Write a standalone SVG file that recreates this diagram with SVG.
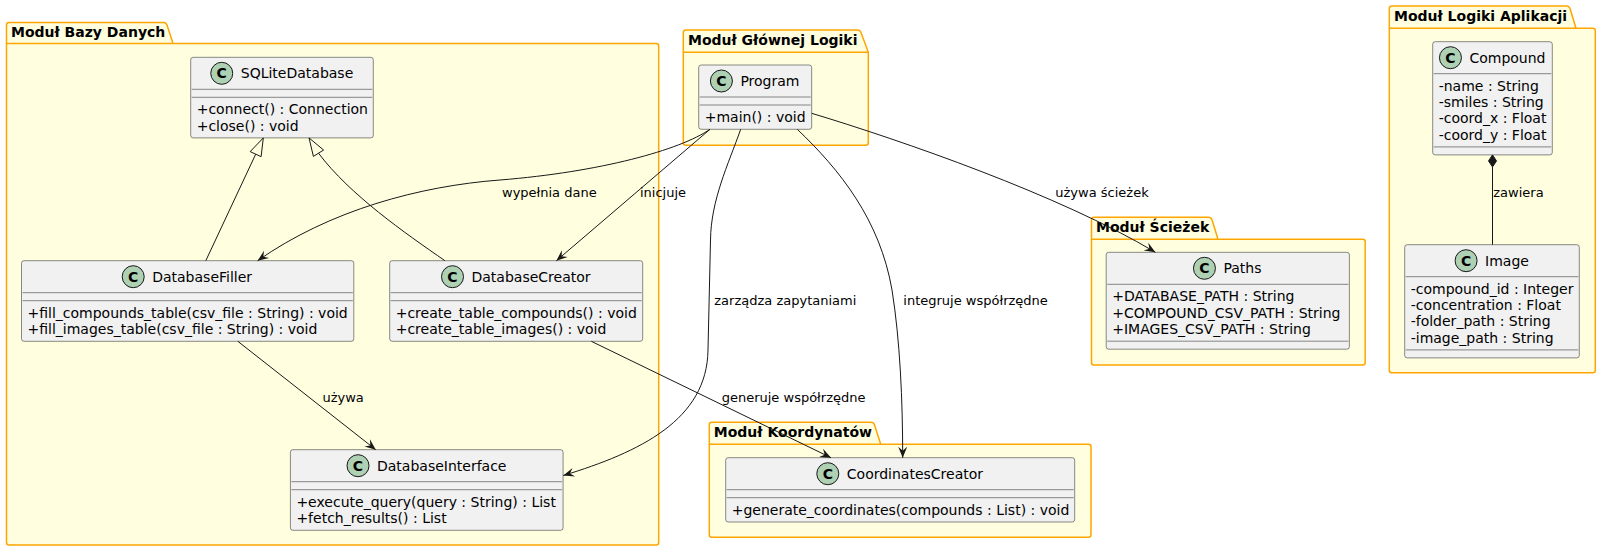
<svg xmlns="http://www.w3.org/2000/svg" width="1601" height="551" viewBox="0 0 1601 551">
<style>
text{font-family:"DejaVu Sans","Noto Sans",sans-serif;fill:#000}
.pkg{fill:#FFFFE0;stroke:#FFA500;stroke-width:1.5}
.pkgl{stroke:#FFA500;stroke-width:1.5;fill:none}
.pt{font-size:14px;font-weight:bold}
.box{fill:#F1F1F1;stroke:#181818;stroke-width:0.5}
.sep{stroke:#181818;stroke-width:0.5}
.spot{fill:#ADD1B2;stroke:#181818;stroke-width:1}
.sl{font-size:14px;font-weight:bold;text-anchor:middle}
.nm{font-size:14px}
.mb{font-size:14px}
.lk{fill:none;stroke:#181818;stroke-width:1}
.lb{font-size:13px}
</style>
<defs>
<marker id="arr" viewBox="-12 -6 14 12" refX="0" refY="0" markerWidth="14" markerHeight="12" orient="auto" markerUnits="userSpaceOnUse">
<path d="M0,0 L-11,-4.5 L-7,0 L-11,4.5 Z" fill="#181818"/>
</marker>
</defs>

<g id="pkg-bazy">
<path class="pkg" d="M9,22.5 L163.5,22.5 Q166,22.5 167,25 L173,43.5 L656.2,43.5 Q658.7,43.5 658.7,46 L658.7,542.5 Q658.7,545 656.2,545 L9,545 Q6.5,545 6.5,542.5 L6.5,25 Q6.5,22.5 9,22.5 Z"/>
<path class="pkgl" d="M6.5,43.5 H173"/>
<text class="pt" x="11" y="37">Moduł Bazy Danych</text>
</g>
<g id="pkg-glowna">
<path class="pkg" d="M685.8,30 L857.5,30 Q860,30 861,32.5 L868.3,52.3 L868.3,142.8 Q868.3,145.3 865.8,145.3 L685.8,145.3 Q683.3,145.3 683.3,142.8 L683.3,32.5 Q683.3,30 685.8,30 Z"/>
<path class="pkgl" d="M683.3,52.3 H868.3"/>
<text class="pt" x="688" y="44.5">Moduł Głównej Logiki</text>
</g>
<g id="pkg-logiki">
<path class="pkg" d="M1391.8,6 L1566.5,6 Q1569,6 1570,8.5 L1576,28.3 L1592.8,28.3 Q1595.3,28.3 1595.3,30.8 L1595.3,370.2 Q1595.3,372.7 1592.8,372.7 L1391.8,372.7 Q1389.3,372.7 1389.3,370.2 L1389.3,8.5 Q1389.3,6 1391.8,6 Z"/>
<path class="pkgl" d="M1389.3,28.3 H1576"/>
<text class="pt" x="1394" y="20.5">Moduł Logiki Aplikacji</text>
</g>
<g id="pkg-sciezek">
<path class="pkg" d="M1094,217.3 L1208.5,217.3 Q1211,217.3 1212,219.8 L1218,239.3 L1362.7,239.3 Q1365.2,239.3 1365.2,241.8 L1365.2,362.5 Q1365.2,365 1362.7,365 L1094,365 Q1091.5,365 1091.5,362.5 L1091.5,219.8 Q1091.5,217.3 1094,217.3 Z"/>
<path class="pkgl" d="M1091.5,239.3 H1218"/>
<text class="pt" x="1096" y="231.8">Moduł Ścieżek</text>
</g>
<g id="pkg-koord">
<path class="pkg" d="M711.8,422.3 L871,422.3 Q873.5,422.3 874.5,424.8 L880.7,444.3 L1088.5,444.3 Q1091,444.3 1091,446.8 L1091,534.8 Q1091,537.3 1088.5,537.3 L711.8,537.3 Q709.3,537.3 709.3,534.8 L709.3,424.8 Q709.3,422.3 711.8,422.3 Z"/>
<path class="pkgl" d="M709.3,444.3 H880.7"/>
<text class="pt" x="713.8" y="436.8">Moduł Koordynatów</text>
</g>

<g id="SQLiteDatabase">
<rect class="box" x="190.7" y="57.3" width="182.6" height="80.6" rx="2.5" ry="2.5"/>
<circle class="spot" cx="221.75" cy="73.3" r="11"/>
<text class="sl" x="221.75" y="78.4">C</text>
<text class="nm" x="240.75" y="78.3">SQLiteDatabase</text>
<line class="sep" x1="191.7" y1="89.3" x2="372.3" y2="89.3"/>
<line class="sep" x1="191.7" y1="97.3" x2="372.3" y2="97.3"/>
<text class="mb" x="196.7" y="114.3">+connect() : Connection</text>
<text class="mb" x="196.7" y="130.6">+close() : void</text>
</g>

<g id="Program">
<rect class="box" x="698.7" y="65" width="113" height="64.3" rx="2.5" ry="2.5"/>
<circle class="spot" cx="721.4" cy="81" r="11"/>
<text class="sl" x="721.4" y="86.1">C</text>
<text class="nm" x="740.4" y="86">Program</text>
<line class="sep" x1="699.7" y1="97" x2="810.7" y2="97"/>
<line class="sep" x1="699.7" y1="105" x2="810.7" y2="105"/>
<text class="mb" x="704.7" y="122">+main() : void</text>
</g>

<g id="DatabaseFiller">
<rect class="box" x="21.5" y="260.7" width="332.3" height="80.6" rx="2.5" ry="2.5"/>
<circle class="spot" cx="133.2" cy="276.7" r="11"/>
<text class="sl" x="133.2" y="281.8">C</text>
<text class="nm" x="152.2" y="281.7">DatabaseFiller</text>
<line class="sep" x1="22.5" y1="292.7" x2="352.8" y2="292.7"/>
<line class="sep" x1="22.5" y1="300.7" x2="352.8" y2="300.7"/>
<text class="mb" x="27.5" y="317.7">+fill_compounds_table(csv_file : String) : void</text>
<text class="mb" x="27.5" y="334">+fill_images_table(csv_file : String) : void</text>
</g>

<g id="DatabaseCreator">
<rect class="box" x="389.7" y="260.7" width="253" height="80.6" rx="2.5" ry="2.5"/>
<circle class="spot" cx="452.5" cy="276.7" r="11"/>
<text class="sl" x="452.5" y="281.8">C</text>
<text class="nm" x="471.5" y="281.7">DatabaseCreator</text>
<line class="sep" x1="390.7" y1="292.7" x2="641.7" y2="292.7"/>
<line class="sep" x1="390.7" y1="300.7" x2="641.7" y2="300.7"/>
<text class="mb" x="395.7" y="317.7">+create_table_compounds() : void</text>
<text class="mb" x="395.7" y="334">+create_table_images() : void</text>
</g>

<g id="DatabaseInterface">
<rect class="box" x="290.4" y="449.7" width="272.7" height="80.6" rx="2.5" ry="2.5"/>
<circle class="spot" cx="358" cy="465.7" r="11"/>
<text class="sl" x="358" y="470.8">C</text>
<text class="nm" x="377" y="470.7">DatabaseInterface</text>
<line class="sep" x1="291.4" y1="481.7" x2="562.1" y2="481.7"/>
<line class="sep" x1="291.4" y1="489.7" x2="562.1" y2="489.7"/>
<text class="mb" x="296.4" y="506.7">+execute_query(query : String) : List</text>
<text class="mb" x="296.4" y="523">+fetch_results() : List</text>
</g>

<g id="CoordinatesCreator">
<rect class="box" x="725.7" y="457.7" width="349" height="64.3" rx="2.5" ry="2.5"/>
<circle class="spot" cx="827.8" cy="473.7" r="11"/>
<text class="sl" x="827.8" y="478.8">C</text>
<text class="nm" x="846.8" y="478.7">CoordinatesCreator</text>
<line class="sep" x1="726.7" y1="489.7" x2="1073.7" y2="489.7"/>
<line class="sep" x1="726.7" y1="497.7" x2="1073.7" y2="497.7"/>
<text class="mb" x="731.7" y="514.7">+generate_coordinates(compounds : List) : void</text>
</g>

<g id="Paths">
<rect class="box" x="1106.2" y="252.3" width="243.2" height="96.9" rx="2.5" ry="2.5"/>
<circle class="spot" cx="1204.45" cy="268.3" r="11"/>
<text class="sl" x="1204.45" y="273.4">C</text>
<text class="nm" x="1223.45" y="273.3">Paths</text>
<line class="sep" x1="1107.2" y1="284.3" x2="1348.4" y2="284.3"/>
<text class="mb" x="1112.2" y="301.3">+DATABASE_PATH : String</text>
<text class="mb" x="1112.2" y="317.6">+COMPOUND_CSV_PATH : String</text>
<text class="mb" x="1112.2" y="333.9">+IMAGES_CSV_PATH : String</text>
<line class="sep" x1="1107.2" y1="341.2" x2="1348.4" y2="341.2"/>
</g>

<g id="Compound">
<rect class="box" x="1432.7" y="41.7" width="119.6" height="113.2" rx="2.5" ry="2.5"/>
<circle class="spot" cx="1450.45" cy="57.7" r="11"/>
<text class="sl" x="1450.45" y="62.8">C</text>
<text class="nm" x="1469.45" y="62.7">Compound</text>
<line class="sep" x1="1433.7" y1="73.7" x2="1551.3" y2="73.7"/>
<text class="mb" x="1438.7" y="90.7">-name : String</text>
<text class="mb" x="1438.7" y="107">-smiles : String</text>
<text class="mb" x="1438.7" y="123.3">-coord_x : Float</text>
<text class="mb" x="1438.7" y="139.6">-coord_y : Float</text>
<line class="sep" x1="1433.7" y1="146.9" x2="1551.3" y2="146.9"/>
</g>

<g id="Image">
<rect class="box" x="1404.7" y="244.7" width="174.6" height="113.2" rx="2.5" ry="2.5"/>
<circle class="spot" cx="1466.1" cy="260.7" r="11"/>
<text class="sl" x="1466.1" y="265.8">C</text>
<text class="nm" x="1485.1" y="265.7">Image</text>
<line class="sep" x1="1405.7" y1="276.7" x2="1578.3" y2="276.7"/>
<text class="mb" x="1410.7" y="293.7">-compound_id : Integer</text>
<text class="mb" x="1410.7" y="310">-concentration : Float</text>
<text class="mb" x="1410.7" y="326.3">-folder_path : String</text>
<text class="mb" x="1410.7" y="342.6">-image_path : String</text>
<line class="sep" x1="1405.7" y1="349.9" x2="1578.3" y2="349.9"/>
</g>

<g id="connectors">
<path class="lk" d="M205.8,260.7 L255.7,154.2"/>
<polygon points="263.3,137.9 261.1,156.7 250.2,151.6" fill="none" stroke="#181818" stroke-width="1"/>
<path class="lk" d="M444.9,260.7 C405,233 350,195 318.5,153.2"/>
<polygon points="309,137.9 323.6,150 313.4,156.4" fill="none" stroke="#181818" stroke-width="1"/>

<path class="lk" marker-end="url(#arr)" d="M710,129.3 C680,150 600,172 500,180 C420,186 330,210 257.6,260.7"/>
<text class="lb" x="502" y="197">wypełnia dane</text>

<path class="lk" marker-end="url(#arr)" d="M710,129.3 L556.4,260.7"/>
<text class="lb" x="640" y="197">inicjuje</text>

<path class="lk" marker-end="url(#arr)" d="M740.7,129.3 C728,165 711,200 710.5,240 L708,350 C707,420 640,452 563.3,475.5"/>
<text class="lb" x="714.3" y="305">zarządza zapytaniami</text>

<path class="lk" marker-end="url(#arr)" d="M797.3,129.3 C840,170 880,220 892,290 C900,340 902.7,400 902.7,457.7"/>
<text class="lb" x="903.3" y="305">integruje współrzędne</text>

<path class="lk" marker-end="url(#arr)" d="M811.7,113.3 C900,140 1060,195 1155.4,252.3"/>
<text class="lb" x="1055.3" y="197">używa ścieżek</text>

<path class="lk" marker-end="url(#arr)" d="M591.3,341.3 L831,457.7"/>
<text class="lb" x="721.7" y="402">generuje współrzędne</text>

<path class="lk" marker-end="url(#arr)" d="M237.8,341.3 L375.8,449.7"/>
<text class="lb" x="322.4" y="402">używa</text>

<polygon points="1492.5,154.9 1496.5,160.9 1492.5,166.9 1488.5,160.9" fill="#181818" stroke="#181818" stroke-width="1"/>
<path class="lk" d="M1492.5,166.9 L1492.5,244.7"/>
<text class="lb" x="1493.3" y="197">zawiera</text>
</g>
</svg>
